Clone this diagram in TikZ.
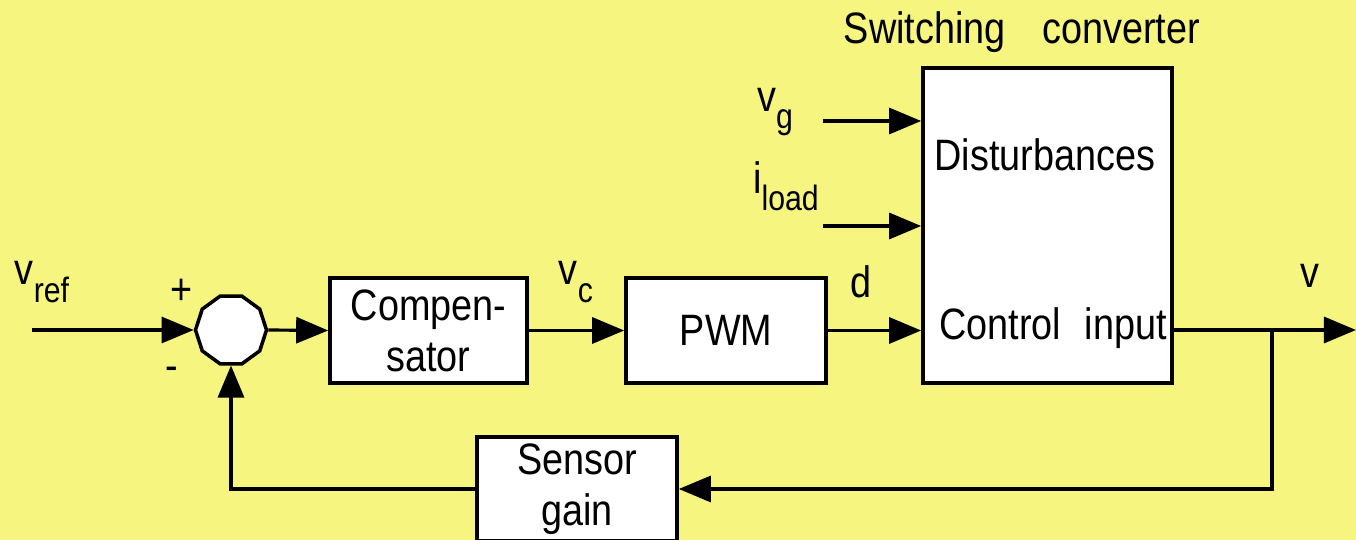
\documentclass[tikz,border=0pt]{standalone}
\usepackage{fontspec}
\setmainfont{Liberation Sans}[FakeStretch=0.86]
\usetikzlibrary{arrows.meta,shapes.geometric}
\definecolor{bgyellow}{RGB}{245,245,128}
\newcommand{\lowsub}[1]{\raisebox{-0.75ex}{\fontsize{10}{12}\selectfont #1}}
\begin{document}
\begin{tikzpicture}[x=0.01cm, y=-0.01cm, font=\fontsize{12.5}{14.5}\selectfont, line width=0.9pt, >={Triangle[length=0.32cm, width=0.26cm]}]
\tikzstyle{block}=[draw, line width=1pt, fill=white, align=center, inner sep=0pt]
\tikzstyle{lbl}=[inner sep=0pt]
\clip (0,0) rectangle (1356,540);
\fill[bgyellow] (0,0) rectangle (1356,540);

% blocks
\node[draw, line width=1pt, fill=white, regular polygon, regular polygon sides=10, minimum size=0.71cm, inner sep=0pt] (sum) at (231,330) {};
\node[block, minimum width=1.97cm, minimum height=1.05cm] (comp) at (428.5,330.5) {Compen-\\sator};
\node[block, minimum width=2.0cm, minimum height=1.05cm] (pwm) at (726,330.5) {PWM};
\node[block, minimum width=2.49cm, minimum height=3.15cm] (conv) at (1047.5,225.5) {};
\node[block, minimum width=2.0cm, minimum height=1.04cm] (sensor) at (577,489) {Sensor\\gain};
\node[lbl] (dist) at (1045,155) {Disturbances};
\node[lbl] (ctrl) at (1053,328) {Control\hspace{0.3em} input};
\node[lbl] (title) at (1022,32) {Switching\hspace{0.6em} converter};

% labels
\node[lbl] (vref) at (42,282) {v\lowsub{ref}};
\node[lbl] (plus) at (182,292) {+};
\node[lbl] (minus) at (172,374) {-};
\node[lbl] (vc) at (576,282) {v\lowsub{c}};
\node[lbl] (dlbl) at (861,282) {d};
\node[lbl] (vg) at (775,112) {v\lowsub{g}};
\node[lbl] (iload) at (786,186) {i\lowsub{load}};
\node[lbl] (vout) at (1310,276) {v};

% free ends
\coordinate (in) at (32,330);
\coordinate (vgin) at (823,121);
\coordinate (ildin) at (823,226);
\coordinate (out) at (1356,330);
\coordinate (branch) at (1272,330);

% connectors
\draw[->] (in) -- (sum.west);
\draw[->] (sum.east) -- (comp.west);
\draw[->] (comp.east) -- (pwm.west);
\draw[->] (pwm.east) -- (pwm.east -| conv.west);
\draw[->] (vgin) -- (vgin -| conv.west);
\draw[->] (ildin) -- (ildin -| conv.west);
\draw[->] (conv.east |- out) -- (out);
\draw[->] (branch) |- (sensor.east);
\draw[->] (sensor.west) -| (sum.south);
\end{tikzpicture}
\end{document}
